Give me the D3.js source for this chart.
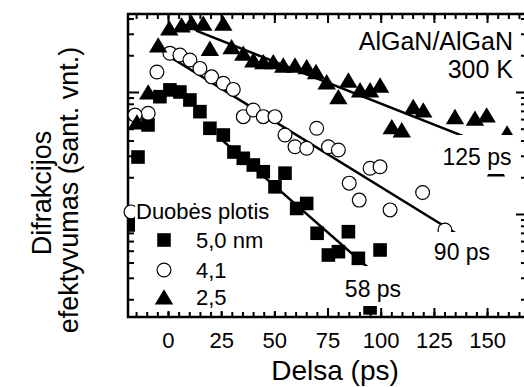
<!DOCTYPE html>
<html>
<head>
<meta charset="utf-8">
<script src="https://cdn.jsdelivr.net/npm/d3@7"></script>
<style>
  body { margin: 0; background: #fff; }
  svg text { font-family: "Liberation Sans", Arial, sans-serif; fill: #000; }
</style>
</head>
<body>
<svg id="chart" width="524" height="387"></svg>
<script>
// delay (ps), diffraction efficiency (arb. units)
const well50 = [
  [-9.4, 0.537], [-14.1, 0.293], [-15.5, 0.0813], [-3.8, 0.915], [0.9, 1.04], [5.6, 1.0],
  [10.3, 0.86], [15.0, 0.69], [19.7, 0.504], [26.0, 0.444], [31.0, 0.322], [35.4, 0.286],
  [40.1, 0.252], [44.8, 0.222], [55.0, 0.216], [50.3, 0.167], [60.5, 0.111], [65.2, 0.122],
  [70.1, 0.0695], [84.8, 0.0716], [75.4, 0.0461], [80.1, 0.0491], [99.7, 0.0507],
  [89.5, 0.0433], [95.0, 0.017]
];
const well41 = [
  [-5.2, 1.46], [0.9, 2.08], [5.6, 2.01], [10.3, 1.83], [15.0, 1.56], [20.5, 1.33],
  [26.0, 1.18], [30.7, 1.05], [-9.3, 0.669], [-15.5, 0.648], [35.4, 0.628], [40.1, 0.712],
  [44.8, 0.628], [50.3, 0.628], [55.0, 0.444], [59.7, 0.356], [65.2, 0.346], [69.9, 0.504],
  [75.4, 0.356], [80.1, 0.335], [95.0, 0.237], [99.7, 0.244], [85.2, 0.179], [89.9, 0.13],
  [104.4, 0.108], [119.7, 0.15], [130.2, 0.0739], [-17.4, 0.104]
];
const well25 = [
  [-14.6, 0.568], [-9.3, 1.0], [-4.6, 2.43], [0.6, 3.35], [6.4, 3.54], [11.1, 3.70],
  [16.6, 3.66], [26.0, 3.66], [19.7, 2.28], [29.9, 2.35], [35.4, 2.08], [40.1, 1.83],
  [44.8, 1.77], [49.5, 1.77], [54.2, 1.66], [59.7, 1.66], [65.2, 1.61], [69.6, 1.47],
  [74.6, 1.21], [80.1, 0.915], [84.8, 1.25], [90.3, 1.04], [95.0, 1.04], [99.7, 1.14],
  [105.2, 0.519], [109.9, 0.489], [115.3, 0.758], [120.0, 0.712], [134.9, 0.628],
  [144.3, 0.609], [149.8, 0.648], [159.4, 0.461], [154.2, 0.234]
];

// exponential fits (straight on log axis), end points
const fit125 = [[13.2, 3.18], [140, 0.427]];
const fit90 = [[0, 1.98], [137, 0.0667]];
const fit58 = [[25, 0.41], [96, 0.0339]];

const xMajor = [0, 25, 50, 75, 100, 125, 150];
const xMinor = d3.range(-15, 170, 5);
const legendLabels = ["5,0 nm", "4,1", "2,5"];

const svg = d3.select("#chart");
const L = 128, R = 526, T = 14, B = 317;

const x = d3.scaleLinear().domain([-18.8, 168.3]).range([L, R]);
const y = d3.scaleLog().domain([0.01431, 4.357]).range([B, T]);

const logTicks = y.ticks();
const isMajor = d => Math.abs(Math.log10(d) - Math.round(Math.log10(d))) < 1e-6;
const yMajor = logTicks.filter(isMajor);
const yMinor = logTicks.filter(d => !isMajor(d));

// ---- axes ------------------------------------------------------------
function styleAxis(g) {
  g.select(".domain").remove();
  g.selectAll("line").attr("stroke", "#000").attr("stroke-width", 2);
}

svg.append("g").attr("transform", `translate(0,${B})`)
  .call(d3.axisBottom(x).tickValues(xMinor).tickSize(-5).tickFormat(""))
  .call(styleAxis);
let bottom = svg.append("g").attr("transform", `translate(0,${B})`)
  .call(d3.axisBottom(x).tickValues(xMajor).tickSize(-9).tickPadding(15))
  .call(styleAxis);
bottom.attr("font-family", null).attr("font-size", null);
bottom.selectAll("text").style("font-size", "22px");

svg.append("g").attr("transform", `translate(0,${T})`)
  .call(d3.axisTop(x).tickValues(xMinor).tickSize(-5).tickFormat(""))
  .call(styleAxis);
svg.append("g").attr("transform", `translate(0,${T})`)
  .call(d3.axisTop(x).tickValues(xMajor).tickSize(-9).tickFormat(""))
  .call(styleAxis);

svg.append("g").attr("transform", `translate(${L},0)`)
  .call(d3.axisLeft(y).tickValues(yMinor).tickSize(-6).tickFormat(""))
  .call(styleAxis);
svg.append("g").attr("transform", `translate(${L},0)`)
  .call(d3.axisLeft(y).tickValues(yMajor).tickSize(-11).tickFormat(""))
  .call(styleAxis);
svg.append("g").attr("transform", `translate(${R},0)`)
  .call(d3.axisRight(y).tickValues(yMinor).tickSize(-5).tickFormat(""))
  .call(styleAxis);
svg.append("g").attr("transform", `translate(${R},0)`)
  .call(d3.axisRight(y).tickValues(yMajor).tickSize(-10).tickFormat(""))
  .call(styleAxis);

svg.append("rect")
  .attr("x", L).attr("y", T).attr("width", R - L).attr("height", B - T)
  .attr("fill", "none").attr("stroke", "#000").attr("stroke-width", 2.5);

// ---- fit lines -------------------------------------------------------
const line = d3.line().x(d => x(d[0])).y(d => y(d[1]));
[fit125, fit90, fit58].forEach(f => {
  svg.append("path").attr("d", line(f))
    .attr("fill", "none").attr("stroke", "#000").attr("stroke-width", 2.5);
});

// ---- markers ---------------------------------------------------------
const triPath = "M0,-7.8L9.2,7.6L-9.2,7.6Z";

svg.append("g").selectAll("rect").data(well50).join("rect")
  .attr("x", d => x(d[0]) - 6.8).attr("y", d => y(d[1]) - 6.8)
  .attr("width", 13.6).attr("height", 13.6).attr("fill", "#000");

svg.append("g").selectAll("circle").data(well41).join("circle")
  .attr("cx", d => x(d[0])).attr("cy", d => y(d[1])).attr("r", 6.9)
  .attr("fill", "#fff").attr("stroke", "#000").attr("stroke-width", 1.2);

svg.append("g").selectAll("path").data(well25).join("path")
  .attr("transform", d => `translate(${x(d[0])},${y(d[1])})`)
  .attr("d", triPath).attr("fill", "#000");

// ---- labels with white boxes ----------------------------------------
function boxLabel(bx, by, bw, bh, tx, ty, txt, size) {
  svg.append("rect").attr("x", bx).attr("y", by).attr("width", bw).attr("height", bh)
    .attr("fill", "#fff");
  svg.append("text").attr("x", tx).attr("y", ty).attr("text-anchor", "middle")
    .style("font-size", size + "px").text(txt);
}
boxLabel(438, 135, 78, 39, 477, 165, "125 ps", 23);
boxLabel(428, 232, 72, 38, 462, 260, "90 ps", 23);
boxLabel(338, 266, 72, 40, 373, 297, "58 ps", 23);

// legend
svg.append("rect").attr("x", 135).attr("y", 199).attr("width", 152).attr("height", 112)
  .attr("fill", "#fff");
svg.append("text").attr("x", 136).attr("y", 219).style("font-size", "22px")
  .text("Duobės plotis");
const legY = [240, 270, 297];
svg.append("rect").attr("x", 157.2).attr("y", legY[0] - 6.8).attr("width", 13.6).attr("height", 13.6)
  .attr("fill", "#000");
svg.append("circle").attr("cx", 164).attr("cy", legY[1]).attr("r", 6.9)
  .attr("fill", "#fff").attr("stroke", "#000").attr("stroke-width", 1.2);
svg.append("path").attr("transform", `translate(164,${legY[2]})`).attr("d", triPath)
  .attr("fill", "#000");
svg.selectAll("text.leg").data(legendLabels).join("text").attr("class", "leg")
  .attr("x", 196).attr("y", (d, i) => legY[i] + 8)
  .style("font-size", "22px").text(d => d);

// sample / temperature
svg.append("text").attr("x", 513).attr("y", 50).attr("text-anchor", "end")
  .style("font-size", "25px").text("AlGaN/AlGaN");
svg.append("text").attr("x", 513).attr("y", 78).attr("text-anchor", "end")
  .style("font-size", "25px").text("300 K");

// axis titles
svg.append("text").attr("x", 335).attr("y", 380).attr("text-anchor", "middle")
  .style("font-size", "28px").text("Delsa (ps)");
svg.append("text").attr("transform", "translate(51,193) rotate(-90)")
  .attr("text-anchor", "middle").style("font-size", "27px").text("Difrakcijos");
svg.append("text").attr("transform", "translate(78,190) rotate(-90)")
  .attr("text-anchor", "middle").style("font-size", "27px").text("efektyvumas (sant. vnt.)");
</script>
</body>
</html>
